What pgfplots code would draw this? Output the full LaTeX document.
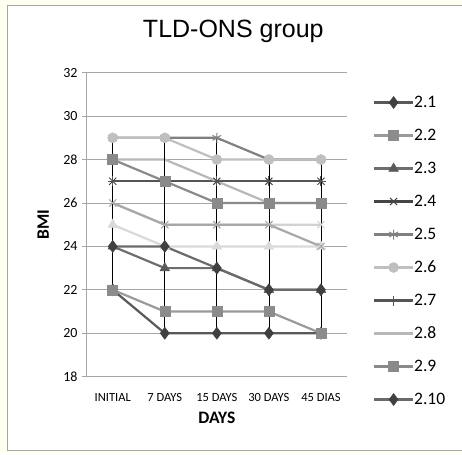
\documentclass[border=0pt]{standalone}
\usepackage{fontspec}
\setmainfont{Carlito}
\newfontfamily\arialfont{Liberation Sans}
\usepackage{pgfplots}
\pgfplotsset{compat=1.18}
\definecolor{bgyellow}{HTML}{FFFFF2}
\definecolor{framegray}{HTML}{A6A6A6}
\definecolor{axisgray}{HTML}{A6A6A6}
\definecolor{gridgray}{HTML}{A6A6A6}
\definecolor{cA}{HTML}{595959}
\definecolor{cAm}{HTML}{404040}
\definecolor{cB}{HTML}{9A9A9A}
\definecolor{cBm}{HTML}{8C8C8C}
\definecolor{cC}{HTML}{6E6E6E}
\definecolor{cCm}{HTML}{5A5A5A}
\definecolor{cD}{HTML}{454545}
\definecolor{cE}{HTML}{808080}
\definecolor{cF}{HTML}{BFBFBF}
\definecolor{cG}{HTML}{555555}
\definecolor{cH}{HTML}{B8B8B8}
\definecolor{cI}{HTML}{8A8A8A}
\definecolor{cJ}{HTML}{6A6A6A}
\definecolor{cLT}{HTML}{DADADA}
\definecolor{cLX}{HTML}{D2D2D2}
\definecolor{cMX}{HTML}{A8A8A8}
\begin{document}
\begin{tikzpicture}[x=1pt,y=1pt]
\useasboundingbox (0,0) rectangle (462,454);
\fill[bgyellow] (0,0) rectangle (462,454);
\filldraw[fill=white, draw=framegray, line width=1pt] (7,3) rectangle (470,448);
\node[font=\arialfont\fontsize{25}{25}\selectfont, anchor=base] at (233.3,416.7) {TLD-ONS group};
\begin{axis}[
  at={(86.7pt,77.3pt)}, anchor=south west,
  scale only axis, width=260.3pt, height=304pt,
  xmin=-0.5, xmax=4.5, ymin=18, ymax=32,
  xtick={0,...,4}, xticklabels={INITIAL,7 DAYS,15 DAYS,30 DAYS,45 DIAS},
  ytick={18,20,...,32},
  axis x line*=bottom, axis y line*=left,
  axis line style={draw=axisgray, line width=0.8pt, -},
  ymajorgrids, grid style={draw=gridgray, line width=0.8pt},
  tick align=outside, major tick length=5pt,
  ytick style={draw=axisgray, line width=0.8pt},
  xtick style={draw=none},
  /pgf/number format/assume math mode=true,
  yticklabel style={font=\fontsize{14}{14}\selectfont, inner sep=0pt, xshift=-4pt},
  xticklabel style={font=\fontsize{12.5}{12.5}\selectfont, inner sep=0pt, text height=8pt, text depth=0pt, anchor=north, yshift=-12pt},
  xlabel={DAYS}, ylabel={BMI},
  xlabel style={font=\bfseries\fontsize{17.5}{17.5}\selectfont, at={(axis description cs:0.5,-0.1359)}, anchor=center},
  ylabel style={font=\bfseries\fontsize{17.5}{17.5}\selectfont, at={(axis description cs:-0.1667,0.5)}, anchor=center},
  legend style={at={(axis description cs:1.0999,0.9266)}, anchor=north west, draw=none, fill=none,
     inner sep=0pt, outer sep=0pt, row sep=18pt,
     font=\fontsize{17.5}{17.5}\selectfont,
     nodes={inner sep=0pt, text height=12pt, text depth=3pt}},
  legend cell align=left,
  legend image code/.code={\draw[mark repeat=2,mark phase=2,#1] plot coordinates {(0pt,0pt) (19.5pt,0pt) (39pt,0pt)};},
  every axis plot/.append style={line width=2.2pt},
]
% extra light series (not in legend)
\addplot[color=cLT, mark=triangle*, mark size=5.5pt, mark options={fill=cLT, draw=cLT, line width=0.5pt}, forget plot] coordinates {(0,25) (1,24) (2,24) (3,24) (4,24)};
\addplot[color=cLX, mark=x, mark size=5pt, mark options={draw=cLX, line width=1pt}, forget plot] coordinates {(0,26) (1,25) (2,25) (3,25) (4,25)};
\addplot[color=cMX, mark=x, mark size=5pt, mark options={draw=cMX, line width=1pt}, forget plot] coordinates {(0,26) (1,25) (2,25) (3,25) (4,24)};
% legend series
\addplot[color=cA, mark=diamond*, mark size=6pt, mark options={fill=cAm, draw=cAm, line width=0.5pt}] coordinates {(0,22) (1,20) (2,20) (3,20) (4,20)};
\addlegendentry{2.1}
\addplot[color=cB, mark=square*, mark size=5pt, mark options={fill=cBm, draw=cBm, line width=0.5pt}] coordinates {(0,22) (1,21) (2,21) (3,21) (4,20)};
\addlegendentry{2.2}
\addplot[color=cC, mark=triangle*, mark size=5.5pt, mark options={fill=cCm, draw=cCm, line width=0.5pt}] coordinates {(0,24) (1,23) (2,23) (3,22) (4,22)};
\addlegendentry{2.3}
\addplot[color=cD, mark=x, mark size=5pt, mark options={draw=cD, line width=1pt}] coordinates {(0,27) (1,27) (2,27) (3,27) (4,27)};
\addlegendentry{2.4}
\addplot[color=cE, mark=asterisk, mark size=5pt, mark options={draw=cE, line width=1pt}] coordinates {(0,29) (1,29) (2,29) (3,28) (4,28)};
\addlegendentry{2.5}
\addplot[color=cF, mark=*, mark size=5pt, mark options={fill=cF, draw=cF, line width=0.5pt}] coordinates {(0,29) (1,29) (2,28) (3,28) (4,28)};
\addlegendentry{2.6}
\addplot[color=cG, mark=+, mark size=5pt, mark options={draw=cG, line width=1pt}] coordinates {(0,27) (1,27) (2,27) (3,27) (4,27)};
\addlegendentry{2.7}
\addplot[color=cH, no marks] coordinates {(0,28) (1,28) (2,27) (3,26) (4,26)};
\addlegendentry{2.8}
\addplot[color=cI, mark=square*, mark size=5pt, mark options={fill=cI, draw=cI, line width=0.5pt}] coordinates {(0,28) (1,27) (2,26) (3,26) (4,26)};
\addlegendentry{2.9}
\addplot[color=cJ, mark=diamond*, mark size=6pt, mark options={fill=cAm, draw=cAm, line width=0.5pt}] coordinates {(0,24) (1,24) (2,23) (3,22) (4,22)};
\addlegendentry{2.10}
% high-low lines
\addplot[black, line width=0.8pt, forget plot] coordinates {(0,22) (0,29)};
\addplot[black, line width=0.8pt, forget plot] coordinates {(1,20) (1,29)};
\addplot[black, line width=0.8pt, forget plot] coordinates {(2,20) (2,29)};
\addplot[black, line width=0.8pt, forget plot] coordinates {(3,20) (3,28)};
\addplot[black, line width=0.8pt, forget plot] coordinates {(4,20) (4,28)};
\end{axis}
\end{tikzpicture}
\end{document}
